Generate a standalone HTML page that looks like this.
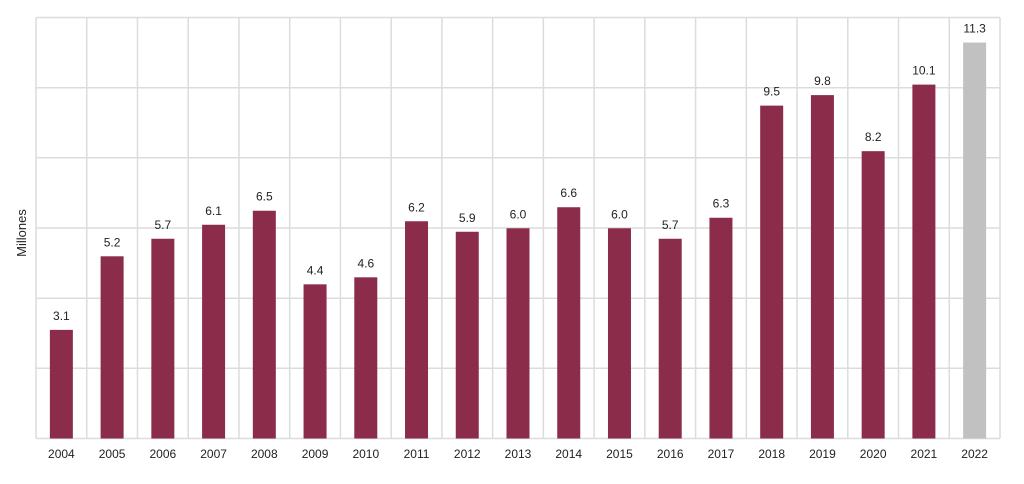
<!DOCTYPE html>
<html><head><meta charset="utf-8"><style>
html,body{margin:0;padding:0;background:#fff;}
</style></head><body>
<svg width="1024" height="479" xmlns="http://www.w3.org/2000/svg" font-family="Liberation Sans, sans-serif">
<g stroke="#dcdcdc" stroke-width="1.5" fill="none">
<line x1="36" y1="17.5" x2="1000" y2="17.5"/>
<line x1="36" y1="87.7" x2="1000" y2="87.7"/>
<line x1="36" y1="157.8" x2="1000" y2="157.8"/>
<line x1="36" y1="228" x2="1000" y2="228"/>
<line x1="36" y1="298.2" x2="1000" y2="298.2"/>
<line x1="36" y1="368.3" x2="1000" y2="368.3"/>
<line x1="36" y1="438.5" x2="1000" y2="438.5"/>
</g>
<g id="v" stroke="#dcdcdc" stroke-width="1.5"></g>
<g id="b"></g>
<text transform="translate(26,233) rotate(-90)" text-anchor="middle" font-size="13" fill="#222">Millones</text>
<script>
var vals=[3.1,5.2,5.7,6.1,6.5,4.4,4.6,6.2,5.9,6.0,6.6,6.0,5.7,6.3,9.5,9.8,8.2,10.1,11.3];
var lab=["3.1","5.2","5.7","6.1","6.5","4.4","4.6","6.2","5.9","6.0","6.6","6.0","5.7","6.3","9.5","9.8","8.2","10.1","11.3"];
var w=964/19,ns="http://www.w3.org/2000/svg",v=document.getElementById('v'),b=document.getElementById('b');
function el(t,a,p,txt){var e=document.createElementNS(ns,t);for(var k in a)e.setAttribute(k,a[k]);if(txt)e.textContent=txt;p.appendChild(e);return e;}
for(var i=0;i<=19;i++){var x=36+i*w;el('line',{x1:x,y1:17.5,x2:x,y2:438.5},v);}
for(var i=0;i<19;i++){var c=36+w*(i+0.5),h=vals[i]*35.04,y=438.5-h;
el('rect',{x:c-11.5,y:y,width:23,height:h,fill:i==18?'#c1c1c1':'#8b2c4b'},b);
el('text',{x:c,y:y-10,'text-anchor':'middle','font-size':'12',fill:'#222'},b,lab[i]);
el('text',{x:c,y:458,'text-anchor':'middle','font-size':'12',fill:'#222'},b,String(2004+i));}
</script>
</svg>
</body></html>
